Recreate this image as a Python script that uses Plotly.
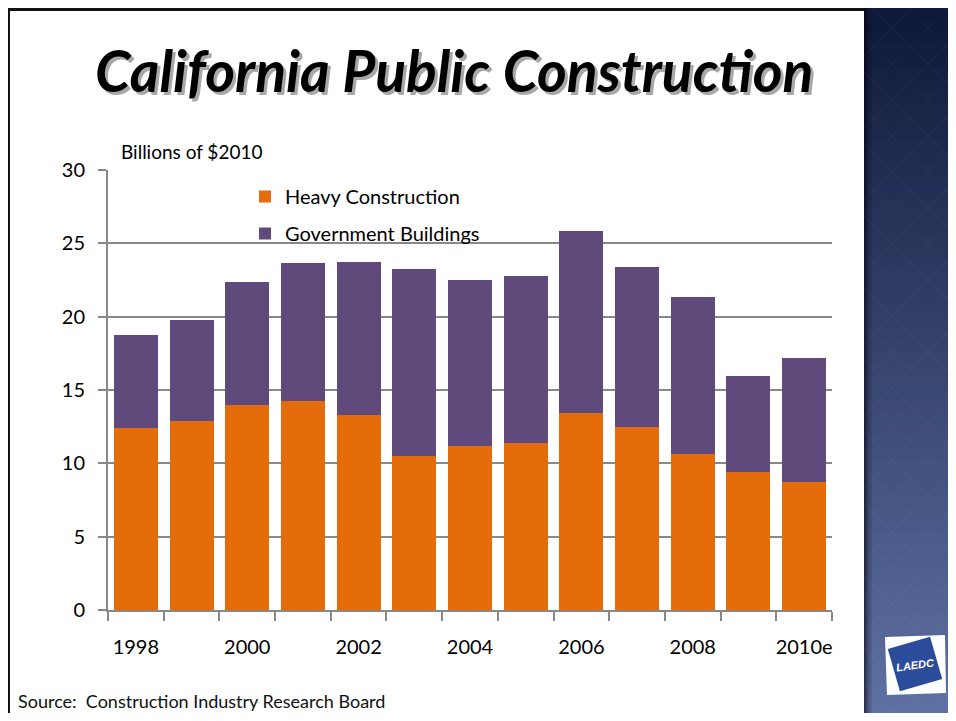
import math
import plotly.graph_objects as go

years = ["1998", "1999", "2000", "2001", "2002", "2003", "2004",
         "2005", "2006", "2007", "2008", "2009", "2010e"]
heavy_construction = [12.41, 12.89, 13.98, 14.25, 13.30, 10.50, 11.18,
                      11.39, 13.43, 12.48, 10.64, 9.41, 8.73]
government_buildings = [6.34, 6.88, 8.38, 9.41, 10.43, 12.75, 11.32,
                        11.38, 12.41, 10.91, 10.70, 6.54, 8.45]
y_ticks = [0, 5, 10, 15, 20, 25, 30]

# page body has an 8px margin, so the figure is drawn smaller and shifted
OFF = 8
W, H = 956 - 2 * OFF, 721 - 2 * OFF
L, R, T, B = 108, 832, 170, 610   # plot area in reference page pixels
FONT = "Lato"
GRID = "#888888"

def px(x):
    return (x - L) / (R - L)

def py(y):
    return (B - y) / (B - T)

positions = list(range(len(years)))

fig = go.Figure()
fig.add_trace(go.Bar(x=positions, y=heavy_construction, name="Heavy Construction",
                     marker=dict(color="#E46C0A", line=dict(width=0)),
                     legendgroup="a"))
fig.add_trace(go.Bar(x=positions, y=government_buildings, name="Government Buildings",
                     marker=dict(color="#604A7B", line=dict(width=0)),
                     legendgroup="b"))

shapes = []
# white box behind legend (breaks gridline)
shapes.append(dict(type="rect", xref="paper", yref="paper", x0=px(238), x1=px(519),
                   y0=py(256), y1=py(176), fillcolor="#ffffff", line=dict(width=0), layer="between"))
# slide border lines
shapes.append(dict(type="line", xref="paper", yref="paper", x0=px(9), x1=px(956), y0=py(9.5), y1=py(9.5),
                   line=dict(color="#111111", width=3), layer="above"))
shapes.append(dict(type="line", xref="paper", yref="paper", x0=px(9), x1=px(9), y0=py(8), y1=py(721),
                   line=dict(color="#111111", width=2), layer="above"))
# right panel gradient
top_c = (14, 24, 56)
bot_c = (96, 114, 165)
n = 60
y_start, y_end = 8, 721
for i in range(n):
    y0 = y_start + (y_end - y_start) * i / n
    y1 = y_start + (y_end - y_start) * (i + 1) / n + 1
    t = (i + 0.5) / n
    c = tuple(int(round(top_c[k] + (bot_c[k] - top_c[k]) * t)) for k in range(3))
    shapes.append(dict(type="rect", xref="paper", yref="paper", x0=px(864), x1=px(957),
                       y0=py(y1), y1=py(y0), fillcolor="rgb(%d,%d,%d)" % c,
                       line=dict(width=0), layer="above"))
# panel left shadow
for xa, op in [(864, 0.55), (866, 0.35), (868, 0.2), (870, 0.1)]:
    shapes.append(dict(type="rect", xref="paper", yref="paper", x0=px(xa), x1=px(xa + 2),
                       y0=py(721), y1=py(8), fillcolor="rgba(0,0,10,%.2f)" % op,
                       line=dict(width=0), layer="above"))
# faint diamond pattern
for k in range(-12, 30):
    ya = k * 36
    shapes.append(dict(type="line", xref="paper", yref="paper", x0=px(864), x1=px(956),
                       y0=py(ya), y1=py(ya + 92), line=dict(color="rgba(255,255,255,0.035)", width=1),
                       layer="above"))
    shapes.append(dict(type="line", xref="paper", yref="paper", x0=px(864), x1=px(956),
                       y0=py(ya + 92), y1=py(ya), line=dict(color="rgba(255,255,255,0.035)", width=1),
                       layer="above"))
# LAEDC logo
shapes.append(dict(type="path", xref="paper", yref="paper",
                   path="M %f %f L %f %f L %f %f L %f %f Z" % (
                       px(885), py(637), px(945), py(635), px(946), py(693), px(887), py(695)),
                   fillcolor="#ffffff", line=dict(width=0), layer="above"))
cx, cy, hs, ang = 915, 664, 22, math.radians(-16)
pts = []
for dx, dy in [(-1, -1), (1, -1), (1, 1), (-1, 1)]:
    xx = cx + hs * (dx * math.cos(ang) - dy * math.sin(ang))
    yy = cy + hs * (dx * math.sin(ang) + dy * math.cos(ang))
    pts.append((px(xx), py(yy)))
shapes.append(dict(type="path", xref="paper", yref="paper",
                   path="M %f %f L %f %f L %f %f L %f %f Z" % (pts[0] + pts[1] + pts[2] + pts[3]),
                   fillcolor="#2B4C9B", line=dict(width=0), layer="above"))

annotations = [
    dict(text="<b><i>California Public Construction</i></b>", xref="paper", yref="paper",
         x=px(457), y=py(73), xanchor="center", yanchor="middle", showarrow=False,
         font=dict(family=FONT, size=57, color="#a8a8a8")),
    dict(text="<b><i>California Public Construction</i></b>", xref="paper", yref="paper",
         x=px(454), y=py(70), xanchor="center", yanchor="middle", showarrow=False,
         font=dict(family=FONT, size=57, color="#000000")),
    dict(text="Billions of $2010", xref="paper", yref="paper", x=px(119), y=py(152),
         xanchor="left", yanchor="middle", showarrow=False,
         font=dict(family=FONT, size=19, color="#000000")),
    dict(text="Source:  Construction Industry Research Board", xref="paper", yref="paper",
         x=px(16), y=py(701), xanchor="left", yanchor="middle", showarrow=False,
         font=dict(family=FONT, size=18, color="#111111")),
    dict(text="<b><i>LAEDC</i></b>", xref="paper", yref="paper", x=px(915), y=py(665),
         xanchor="center", yanchor="middle", showarrow=False, textangle=-8,
         font=dict(family="Liberation Sans", size=11, color="#ffffff")),
]

fig.update_layout(
    width=W, height=H, autosize=False,
    margin=dict(l=L - OFF, r=956 - OFF - R, t=T - OFF, b=721 - OFF - B, pad=0),
    paper_bgcolor="#ffffff", plot_bgcolor="#ffffff",
    barmode="stack", bargap=0.21,
    showlegend=True,
    legend=dict(x=px(245), y=py(177), xanchor="left", yanchor="top",
                bgcolor="rgba(255,255,255,0)", borderwidth=0, traceorder="grouped",
                tracegroupgap=8,
                font=dict(family=FONT, size=20, color="#000000")),
    shapes=shapes, annotations=annotations,
    font=dict(family=FONT, color="#000000"),
)
fig.update_xaxes(range=[-0.5, len(years) - 0.5], tickmode="array",
                 tickvals=positions[::2], ticktext=years[::2], ticks="",
                 showline=True, linecolor=GRID, linewidth=2, showgrid=False, zeroline=False,
                 tickfont=dict(family=FONT, size=20, color="#000000"), ticklabelstandoff=18,
                 minor=dict(tickmode="array", tickvals=[p - 0.5 for p in positions] + [positions[-1] + 0.5],
                            ticks="outside", ticklen=9, tickwidth=2, tickcolor=GRID, showgrid=False))
fig.update_yaxes(range=[0, 30], tickmode="array", tickvals=y_ticks, ticks="outside",
                 ticklen=8, tickwidth=2, tickcolor=GRID, showgrid=True, gridcolor=GRID,
                 gridwidth=2, showline=True, linecolor=GRID, linewidth=2, zeroline=False,
                 tickfont=dict(family=FONT, size=20, color="#000000"), ticklabelstandoff=9)

fig.write_html("out.html")
